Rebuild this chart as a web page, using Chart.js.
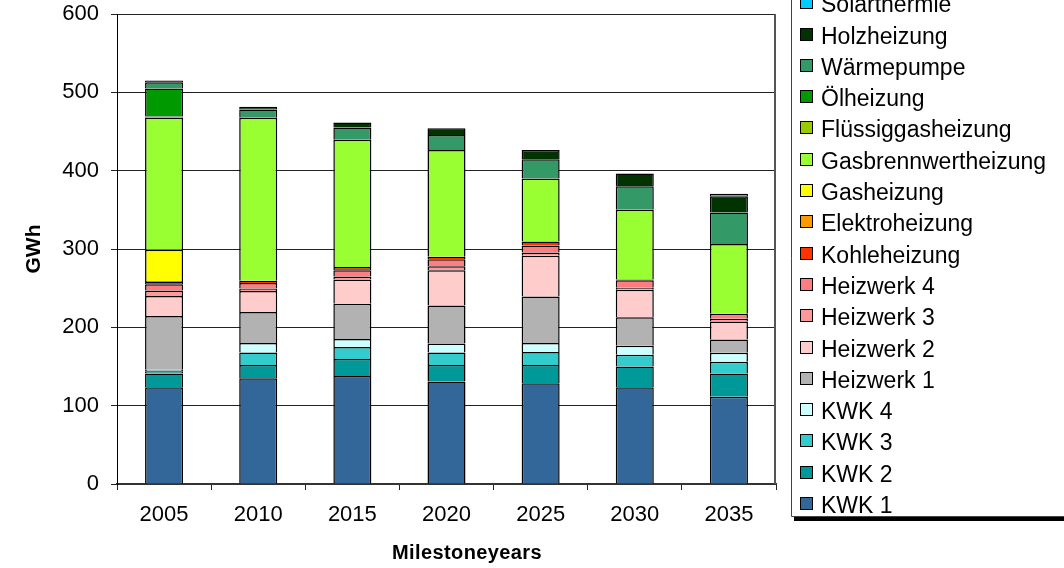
<!DOCTYPE html>
<html>
<head>
<meta charset="utf-8">
<script src="https://cdn.jsdelivr.net/npm/chart.js@4.4.1/dist/chart.umd.min.js"></script>
<style>
  html, body { margin: 0; padding: 0; background: #fff; overflow: hidden; }
  canvas { display: block; }
</style>
</head>
<body>
<canvas id="c" width="1064" height="568"></canvas>
<script>
// Heat supply per technology (GWh) for each milestone year, bottom of stack first
const years = ['2005', '2010', '2015', '2020', '2025', '2030', '2035'];

const kwk1          = [123.5, 135, 138, 131, 128.5, 123.5, 111.5];
const kwk2          = [17.5, 17, 21.5, 21, 23.5, 26.5, 29.5];
const kwk3          = [3, 16, 15.5, 16, 16.5, 15, 15];
const kwk4          = [2, 12, 10, 11.5, 11.5, 11.5, 11.5];
const heizwerk1     = [68.5, 39.5, 45, 48.5, 59.5, 36.5, 17];
const heizwerk2     = [25.5, 27, 31, 45, 52, 35, 23];
const heizwerk3     = [7, 3, 4, 5, 4, 2.5, 3.5];
const heizwerk4     = [8, 7, 8, 9, 9, 9.5, 6.5];
const kohle         = [3, 3, 4, 3, 5, 1, 0];
const elektro       = [1, 0, 0, 0, 0, 0, 0];
const gas           = [40, 0, 0, 0, 0, 0, 0];
const gasbrennwert  = [169, 208, 162.5, 136.5, 80.5, 89, 89];
const fluessiggas   = [1, 0, 0, 0, 0, 0, 0];
const oel           = [36, 0, 0, 0, 0, 0, 0];
const waermepumpe   = [8, 10.5, 15.5, 19, 24.5, 30, 40];
const holz          = [2, 3.5, 6.5, 8.5, 12, 16.5, 21];
const solarthermie  = [0, 0, 0, 0, 0, 0, 3];

const yTicks = { min: 0, max: 600, step: 100 };
const xTitle = 'Milestoneyears';
const yTitle = 'GWh';

const series = [
  ['KWK 1', kwk1, '#336699'],
  ['KWK 2', kwk2, '#009999'],
  ['KWK 3', kwk3, '#33CCCC'],
  ['KWK 4', kwk4, '#CCFFFF'],
  ['Heizwerk 1', heizwerk1, '#B2B2B2'],
  ['Heizwerk 2', heizwerk2, '#FFCCCC'],
  ['Heizwerk 3', heizwerk3, '#FF9999'],
  ['Heizwerk 4', heizwerk4, '#FF7C80'],
  ['Kohleheizung', kohle, '#FF3300'],
  ['Elektroheizung', elektro, '#FF9900'],
  ['Gasheizung', gas, '#FFFF00'],
  ['Gasbrennwertheizung', gasbrennwert, '#99FF33'],
  ['Flüssiggasheizung', fluessiggas, '#99CC00'],
  ['Ölheizung', oel, '#009900'],
  ['Wärmepumpe', waermepumpe, '#339966'],
  ['Holzheizung', holz, '#003300'],
  ['Solarthermie', solarthermie, '#00CCFF']
];

const FONT = "'Liberation Sans', Arial, sans-serif";

// Plot frame (right edge), the spaced x-axis caption and the boxed legend on the right
const frameAndLegend = {
  id: 'frameAndLegend',
  afterDraw(chart) {
    const ctx = chart.ctx;
    const a = chart.chartArea;
    ctx.save();
    ctx.strokeStyle = '#555';
    ctx.lineWidth = 2;
    ctx.beginPath();
    ctx.moveTo(a.right - 1, a.top);
    ctx.lineTo(a.right - 1, a.bottom);
    ctx.stroke();

    // x-axis caption, slightly tracked
    ctx.font = 'bold 20px ' + FONT;
    ctx.fillStyle = '#000';
    ctx.textAlign = 'center';
    ctx.textBaseline = 'alphabetic';
    if ('letterSpacing' in ctx) ctx.letterSpacing = '0.4px';
    ctx.fillText(xTitle, 467, 559);
    if ('letterSpacing' in ctx) ctx.letterSpacing = '0px';

    const boxLeft = 791.5, boxBottom = 516.5;
    ctx.strokeStyle = '#444';
    ctx.lineWidth = 1;
    ctx.beginPath();
    ctx.moveTo(boxLeft, 0);
    ctx.lineTo(boxLeft, boxBottom);
    ctx.lineTo(chart.width, boxBottom);
    ctx.stroke();
    ctx.fillStyle = '#000';
    ctx.fillRect(794, 517, chart.width - 794, 4);

    const items = chart.data.datasets.slice().reverse();
    ctx.font = '23px ' + FONT;
    ctx.textAlign = 'left';
    items.forEach((ds, i) => {
      const cy = 2.2 + 31.3 * i;
      ctx.fillStyle = ds.backgroundColor;
      ctx.fillRect(800, Math.round(cy) - 6, 12, 12);
      ctx.strokeStyle = '#000';
      ctx.strokeRect(800.5, Math.round(cy) - 5.5, 12, 12);
      ctx.fillStyle = '#000';
      ctx.fillText(ds.label, 821, cy + 10);
    });
    ctx.restore();
  }
};

new Chart(document.getElementById('c'), {
  type: 'bar',
  data: {
    labels: years,
    datasets: series.map(([label, data, color]) => ({
      label,
      data,
      backgroundColor: color,
      borderColor: '#000',
      borderWidth: 1.5,
      barPercentage: 0.404,
      categoryPercentage: 1
    }))
  },
  options: {
    responsive: false,
    animation: false,
    devicePixelRatio: 1,
    layout: { padding: { top: 14, right: 288, left: 0, bottom: 0 } },
    plugins: {
      legend: { display: false },
      tooltip: { enabled: false }
    },
    scales: {
      x: {
        stacked: true,
        afterFit: (s) => { s.height = 84; },
        grid: { offset: true, drawOnChartArea: false, drawTicks: true, tickLength: 6, color: '#222' },
        border: { color: '#333', width: 2 },
        ticks: { color: '#000', font: { family: FONT, size: 22 }, padding: 12, maxRotation: 0 },
        title: { display: false }
      },
      y: {
        stacked: true,
        min: yTicks.min,
        max: yTicks.max,
        afterFit: (s) => { s.width = 117; s.paddingTop = 0; s.paddingBottom = 0; },
        grid: { color: '#222', tickLength: 6, drawTicks: true },
        border: { color: '#000', width: 1 },
        ticks: { stepSize: yTicks.step, color: '#000', font: { family: FONT, size: 22 }, padding: 12 },
        title: {
          display: true,
          text: yTitle,
          color: '#000',
          font: { family: FONT, size: 21, weight: 'bold' },
          padding: { top: 22, bottom: 0 }
        }
      }
    }
  },
  plugins: [frameAndLegend]
});
</script>
</body>
</html>
